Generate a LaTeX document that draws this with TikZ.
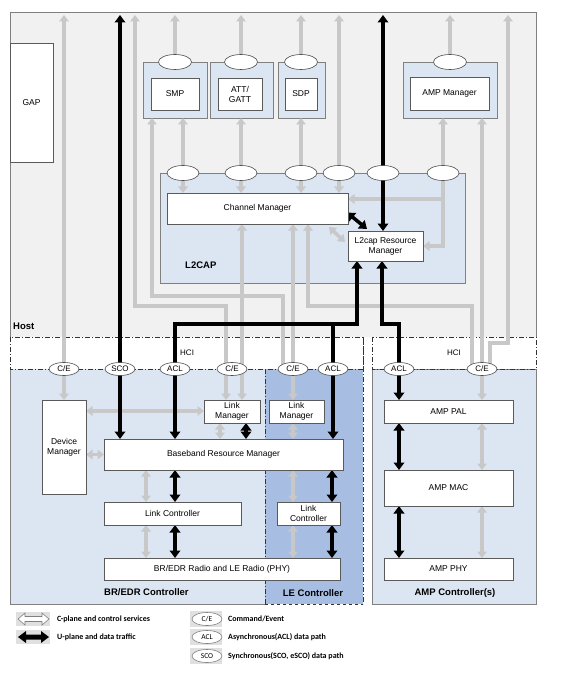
\documentclass[tikz,border=0pt]{standalone}
\usepackage{fontspec}
\setmainfont{Liberation Sans}
\newfontfamily\leyfont{Carlito}
\usetikzlibrary{arrows.meta,shapes.geometric,calc}
\definecolor{H}{RGB}{241, 241, 241}
\definecolor{B}{RGB}{220, 230, 243}
\definecolor{L}{RGB}{168, 189, 226}
\definecolor{C}{RGB}{200, 200, 200}
\definecolor{F}{RGB}{128, 128, 128}
\pgfdeclarelayer{fondo}
\pgfdeclarelayer{lineas}
\pgfsetlayers{fondo,lineas,main}
\tikzset{
  caja/.style={draw=F!70!black, fill=white, line width=0.6pt, inner sep=0pt, outer sep=0pt,
    anchor=north west, align=center, font=\fontsize{8.5}{10}\selectfont},
  grupo/.style={draw=F, fill=B, line width=0.6pt, inner sep=0pt, outer sep=0pt, anchor=north west},
  ovalo/.style={ellipse, draw=F!60!black, fill=white, line width=0.6pt, inner sep=0pt,
    minimum width=33pt, minimum height=15pt},
  ovhci/.style={ovalo, minimum width=30pt, minimum height=13pt, font=\fontsize{8}{9}\selectfont},
  cflecha/.style={draw=C, line width=3.5pt, >={Triangle[width=9.5pt,length=6.5pt]}},
  uflecha/.style={draw=black, line width=3.5pt, >={Triangle[width=10.5pt,length=7.5pt]}},
  rayapunto/.style={draw=black!80, line width=0.6pt, dash pattern=on 5pt off 2pt on 1pt off 2pt},
  marco/.style={draw=F, line width=0.6pt},
  titulo/.style={font=\bfseries\fontsize{9.5}{11}\selectfont, anchor=west, inner sep=0pt},
  leyenda/.style={font=\leyfont\bfseries\fontsize{8}{9}\selectfont, anchor=west, inner sep=0pt}
}

\begin{document}
\begin{tikzpicture}[x=1pt,y=-1pt]
  \useasboundingbox (0,0) rectangle (565,676);

  \begin{pgfonlayer}{fondo}
    %Host
    \fill[H] (10,12) rectangle (536,337);
    \draw[marco] (10,337) -- (10,12) -- (536,12) -- (536,337);
    %Controlador BR/EDR
    \fill[B] (10,369) rectangle (265,604);
    \draw[marco] (265,604) -- (10,604) -- (10,369);
    %Controlador LE
    \fill[L] (265,369) rectangle (363,604);
    \draw[rayapunto] (265,369) -- (265,604);
    \draw[rayapunto] (363,337) -- (363,604);
    \draw[draw=black!80, line width=0.6pt, dashed] (265,604) -- (363,604);
    %Controlador AMP
    \fill[B] (372,369) rectangle (536,604);
    \draw[marco] (372,369) rectangle (536,604);
    %HCI
    \draw[rayapunto] (10,337) rectangle (363,369);
    \draw[rayapunto] (372,337) rectangle (536,369);

    %grupos del host
    \node[grupo, minimum width=64pt, minimum height=56pt] (smpg) at (143,62) {};
    \node[grupo, minimum width=63pt, minimum height=56pt] (attg) at (210,62) {};
    \node[grupo, minimum width=47pt, minimum height=56pt] (sdpg) at (278,62) {};
    \node[grupo, minimum width=94pt, minimum height=56pt] (ampmg) at (403,62) {};
    \node[grupo, minimum width=305pt, minimum height=110pt] (l2cap) at (160,173) {};
  \end{pgfonlayer}

  %cajas del host
  \node[caja, minimum width=43pt, minimum height=119pt] (gap) at (10,43) {GAP};
  \node[caja, minimum width=48pt, minimum height=32pt] (smp) at (151,78) {SMP};
  \node[caja, minimum width=44pt, minimum height=32pt] (att) at (218,78) {ATT/\\GATT};
  \node[caja, minimum width=32pt, minimum height=32pt] (sdp) at (285,78) {SDP};
  \node[caja, minimum width=79pt, minimum height=33pt] (ampm) at (410,77) {AMP Manager};
  \node[caja, minimum width=181pt, minimum height=31pt] (chm) at (167,193) {Channel Manager};
  \node[caja, minimum width=75pt, minimum height=30pt] (lrm) at (348,231) {L2cap Resource\\Manager};

  %cajas BR/EDR y LE
  \node[caja, minimum width=44pt, minimum height=94pt] (devm) at (42,400) {Device\\Manager};
  \node[caja, minimum width=56pt, minimum height=23pt] (lm1) at (204,400) {Link\\Manager};
  \node[caja, minimum width=55pt, minimum height=23pt] (lm2) at (269,400) {Link\\Manager};
  \node[caja, minimum width=239pt, minimum height=31pt] (brm) at (104,439) {Baseband Resource Manager};
  \node[caja, minimum width=137pt, minimum height=23pt] (lc1) at (104,502) {Link Controller};
  \node[caja, minimum width=63pt, minimum height=23pt] (lc2) at (277,502) {Link\\Controller};
  \node[caja, minimum width=236pt, minimum height=22pt] (phy) at (104,558) {BR/EDR Radio and LE Radio (PHY)};

  %cajas AMP
  \node[caja, minimum width=129pt, minimum height=23pt] (pal) at (384,400) {AMP PAL};
  \node[caja, minimum width=129pt, minimum height=36pt] (mac) at (384,470) {AMP MAC};
  \node[caja, minimum width=129pt, minimum height=22pt] (ampphy) at (384,558) {AMP PHY};

  %ovalos vacios
  \node[ovalo] (smpo) at (175,62) {};
  \node[ovalo] (atto) at (241,62) {};
  \node[ovalo] (sdpo) at (301,62) {};
  \node[ovalo] (ampmo) at (450,62) {};
  \foreach \x [count=\i] in {183,241,301,339,383,443}
    \node[ovalo, minimum width=32pt] (lo\i) at (\x,173) {};

  %ovalos HCI
  \node[ovhci] (ce1) at (64,369) {C/E};
  \node[ovhci] (sco) at (120,369) {SCO};
  \node[ovhci] (acl1) at (175,369) {ACL};
  \node[ovhci] (ce2) at (232,369) {C/E};
  \node[ovhci] (ce3) at (293,369) {C/E};
  \node[ovhci] (acl2) at (333,369) {ACL};
  \node[ovhci] (acl3) at (399,369) {ACL};
  \node[ovhci] (ce4) at (482,369) {C/E};

  %textos
  \node[titulo] (host) at (13,326) {Host};
  \node[titulo] (l2t) at (185,265) {L2CAP};
  \node[anchor=west, inner sep=0pt, font=\fontsize{8}{9}\selectfont] (hci1) at (180,353) {HCI};
  \node[inner sep=0pt, font=\fontsize{8}{9}\selectfont] (hci2) at (454,353) {HCI};
  \node[titulo] (brt) at (104,592) {BR/EDR Controller};
  \node[titulo, anchor=center] (let) at (313,593) {LE Controller};
  \node[titulo, anchor=center] (ampt) at (455,593) {AMP Controller(s)};

  \coordinate (techo) at (0,15);

  \begin{pgfonlayer}{lineas}
    %plano C (gris)
    \draw[cflecha,<->] (devm.north |- techo) -- (devm.north);
    \draw[cflecha,<->] (techo -| 135,0) -- (135,306) -- (226,306) -- (lm1.north -| 226,0);
    \draw[cflecha,<->] (chm.south -| 242,0) -- (lm1.north -| 242,0);
    \draw[cflecha,->] (ce3.center -| 283,0) -- (283,296) -- (152,296) -- (smpg.south -| 152,0);
    \draw[cflecha,<->] (chm.south -| 293,0) -- (lm2.north -| 293,0);
    \draw[cflecha,<-] (chm.south -| 308,0) -- (308,306) -- (472,306) -- (ce4.center -| 472,0);
    \draw[cflecha,<->] (ampmg.south -| 482,0) -- (pal.north -| 482,0);
    \draw[cflecha,->] (ce4.center -| 490,0) -- (490,343) -- (508,343) -- (techo -| 508,0);
    \draw[cflecha,<->] (techo -| 339,0) -- (chm.north -| 339,0);
    \foreach \x/\g in {183/smpg,241/attg,301/sdpg}
      \draw[cflecha,<->] (\g.south -| \x,0) -- (chm.north -| \x,0);
    \foreach \o in {smpo,atto,sdpo,ampmo}
      \draw[cflecha,->] (\o.center) -- (\o |- techo);
    \draw[cflecha,<->] (ampmg.south -| 443,0) |- (lrm.east);
    \draw[cflecha,->] (443,199) -- (chm.east |- 443,199);
    \draw[cflecha,<->] ($(chm.south east)+(-19,3)$) -- ($(lrm.west)+(-3,-4)$);
    \draw[cflecha,<->] (devm.east |- 0,411) -- (lm1.west |- 0,411);
    \draw[cflecha,<->] (devm.east |- brm.west) -- (brm.west);
    \draw[cflecha,<->] (lm1.south -| 220,0) -- (brm.north -| 220,0);
    \draw[cflecha,<->] (brm.south -| 146,0) -- (lc1.north -| 146,0);
    \draw[cflecha,<->] (lc1.south -| 146,0) -- (phy.north -| 146,0);
    \draw[cflecha,<->] (lm2.south -| 293,0) -- (brm.north -| 293,0);
    \draw[cflecha,<->] (brm.south -| 293,0) -- (lc2.north -| 293,0);
    \draw[cflecha,<->] (lc2.south -| 293,0) -- (phy.north -| 293,0);
    \draw[cflecha,<->] (pal.south -| 482,0) -- (mac.north -| 482,0);
    \draw[cflecha,<->] (mac.south -| 482,0) -- (ampphy.north -| 482,0);

    %plano U (negro)
    \draw[uflecha,<->] (techo -| sco) -- (brm.north -| sco);
    \draw[uflecha,<->] (brm.north -| acl1) -- (acl1 |- 0,324) -- (357,324) -- (lrm.south -| 357,0);
    \draw[uflecha,->] (acl2 |- 0,324) -- (brm.north -| acl2);
    \draw[uflecha,<->] (pal.north -| acl3) -- (acl3 |- 0,324) -- (382,324) -- (lrm.south -| 382,0);
    \draw[uflecha,<->] (techo -| 383,0) -- (lrm.north -| 383,0);
    \draw[uflecha,<->] ($(chm.east)+(-1,4)$) -- ($(lrm.north west)+(19,-2)$);
    \draw[uflecha,<->] (lm1.south -| 246,0) -- (brm.north -| 246,0);
    \draw[uflecha,<->] (brm.south -| acl1) -- (lc1.north -| acl1);
    \draw[uflecha,<->] (lc1.south -| acl1) -- (phy.north -| acl1);
    \draw[uflecha,<->] (brm.south -| 332,0) -- (lc2.north -| 332,0);
    \draw[uflecha,<->] (lc2.south -| 332,0) -- (phy.north -| 332,0);
    \draw[uflecha,<->] (pal.south -| acl3) -- (mac.north -| acl3);
    \draw[uflecha,<->] (mac.south -| acl3) -- (ampphy.north -| acl3);
  \end{pgfonlayer}

  %Leyenda
  \fill[black!12] (16,612) rectangle (50,626);
  \fill[black!12] (16,630) rectangle (50,644);
  \draw[F, fill=white, line width=0.6pt] (18,619) -- (25,613) -- (25,616.5) -- (42,616.5) -- (42,613)
    -- (49,619) -- (42,625) -- (42,621.5) -- (25,621.5) -- (25,625) -- cycle;
  \fill[black] (18,637) -- (26,631) -- (26,634.5) -- (41,634.5) -- (41,631)
    -- (49,637) -- (41,643) -- (41,639.5) -- (26,639.5) -- (26,643) -- cycle;
  \node[leyenda] (lt1) at (57,619) {C-plane and control services};
  \node[leyenda] (lt2) at (57,637) {U-plane and data traffic};
  \foreach \y/\t/\n in {619/C\slash E/1,637/ACL/2,656/SCO/3}{
    \fill[black!12] (190,\y-8) rectangle (222,\y+8);
    \node[ovhci, draw=F, font=\leyfont\fontsize{7.5}{8}\selectfont] (lo\n) at (207,\y) {\t};
  }
  \node[leyenda] (lt3) at (228,619) {Command/Event};
  \node[leyenda] (lt4) at (228,637) {Asynchronous(ACL) data path};
  \node[leyenda] (lt5) at (228,656) {Synchronous(SCO, eSCO) data path};
\end{tikzpicture}
\end{document}
